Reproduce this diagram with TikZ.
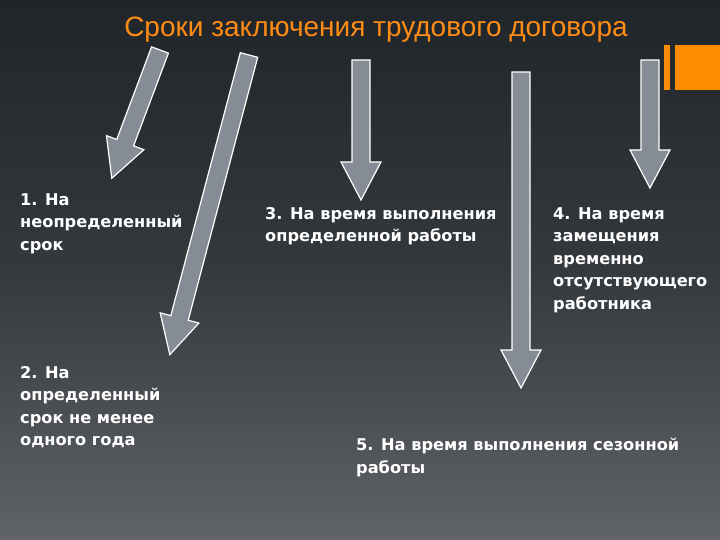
\documentclass[tikz,border=0pt]{standalone}
\usepackage{fontspec}
\setmainfont{DejaVu Sans}
\newfontfamily\titlefont{Liberation Sans}
\begin{document}
\begin{tikzpicture}[x=1pt,y=1pt,
  arr/.style={fill={rgb,255:red,133;green,140;blue,150}, draw=white, line width=1.2pt},
  txt/.style={text=white, font=\bfseries\fontsize{16.2}{22.5}\selectfont, anchor=north west, align=left, inner sep=0pt}]
\shade[top color={rgb,255:red,32;green,37;blue,42}, bottom color={rgb,255:red,96;green,99;blue,104}, middle color={rgb,255:red,52;green,57;blue,62}] (0,0) rectangle (720,-540);
\useasboundingbox (0,0) rectangle (720,-540);
\fill[orange!90!yellow] (664,-45) rectangle (670,-90);
\fill[orange!90!yellow] (675,-45) rectangle (720,-90);
\node[text={rgb,255:red,255;green,140;blue,20}, font=\titlefont\fontsize{28}{32}\selectfont] (title) at (376,-30) {Сроки заключения трудового договора};
\newcommand\myarrow[4]{%
\begin{scope}[shift={(#1,#2)}, rotate=#3]
\draw[arr] (0,9)--(#4-38,9)--(#4-38,20)--(#4,0)--(#4-38,-20)--(#4-38,-9)--(0,-9)--cycle;
\end{scope}}
\myarrow{160}{-50}{249.4}{137}
\myarrow{249}{-55}{255.2}{310}
\myarrow{361}{-60}{270}{140}
\myarrow{521}{-72}{270}{316}
\myarrow{650}{-60}{270}{128}
\node[txt] (t1) at (20,-193) {1. На\\неопределенный\\срок};
\node[txt] (t2) at (20,-366) {2. На\\определенный\\срок не менее\\одного года};
\node[txt] (t3) at (265,-207) {3. На время выполнения\\определенной работы};
\node[txt] (t4) at (553,-207) {4. На время\\замещения\\временно\\отсутствующего\\работника};
\node[txt] (t5) at (356,-438) {5. На время выполнения сезонной\\работы};
\end{tikzpicture}
\end{document}
